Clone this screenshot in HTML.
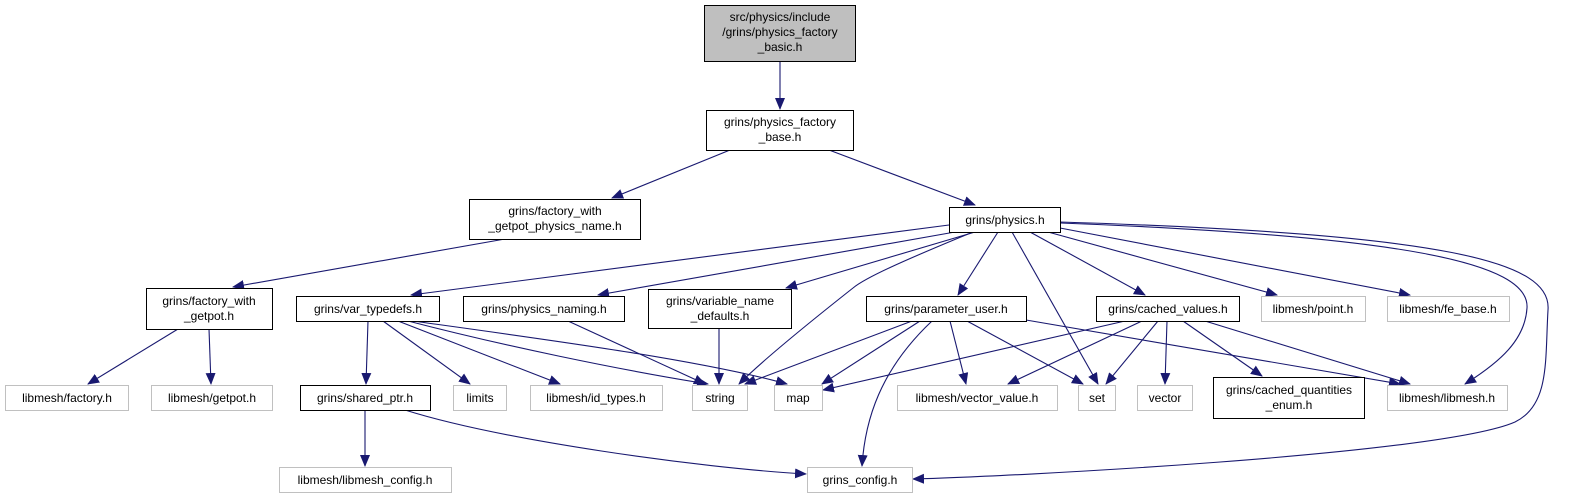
<!DOCTYPE html>
<html><head><meta charset="utf-8"><style>
html,body{margin:0;padding:0;background:#fff;}
svg{display:block;}
text{font-family:"Liberation Sans",sans-serif;font-size:12px;fill:#000;text-anchor:middle;}
.g{stroke:#c0c0c0;fill:#fff;stroke-width:1;}
.b{stroke:#000;fill:#fff;stroke-width:1;}
.e{stroke:#191970;fill:none;stroke-width:1.1;}
</style></head><body>
<svg width="1594" height="499" viewBox="0 0 1594 499" xmlns="http://www.w3.org/2000/svg">
<defs><marker id="a" markerWidth="12" markerHeight="10" refX="11" refY="5" orient="auto" markerUnits="userSpaceOnUse"><path d="M0,0 L12,5 L0,10 z" fill="#191970"/></marker></defs>
<g marker-end="url(#a)">
<path class="e" d="M780,61 L780,109"/>
<path class="e" d="M730,150 L612,198"/>
<path class="e" d="M829,150 L975,205"/>
<path class="e" d="M505,239 L233,287"/>
<path class="e" d="M178,329 L88,384"/>
<path class="e" d="M209,329 L211,384"/>
<path class="e" d="M949,225 L411,295"/>
<path class="e" d="M955,232 L598,295"/>
<path class="e" d="M975,232 L786,288"/>
<path class="e" d="M998,232 L958,295"/>
<path class="e" d="M973,232 C900,262 865,278 853,288 C815,318 765,358 739,384"/>
<path class="e" d="M1012,232 L1098,384"/>
<path class="e" d="M1030,232 L1145,295"/>
<path class="e" d="M1048,232 L1277,295"/>
<path class="e" d="M1060,228 L1410,295"/>
<path class="e" d="M1060,223 C1400,236 1530,262 1527,308 C1525,340 1500,362 1465,384"/>
<path class="e" d="M1060,222 C1450,234 1552,262 1548,310 C1545,360 1550,405 1515,422 C1440,455 1000,477 913,479"/>
<path class="e" d="M368,321 L366,384"/>
<path class="e" d="M383,321 L470,384"/>
<path class="e" d="M398,321 L560,384"/>
<path class="e" d="M408,321 C500,345 620,370 708,384"/>
<path class="e" d="M413,321 C550,340 700,360 787,384"/>
<path class="e" d="M568,321 L705,384"/>
<path class="e" d="M719,328 L719,384"/>
<path class="e" d="M912,321 L745,384"/>
<path class="e" d="M920,321 L822,384"/>
<path class="e" d="M932,321 C880,370 865,420 862,466"/>
<path class="e" d="M950,321 L966,384"/>
<path class="e" d="M967,321 L1083,384"/>
<path class="e" d="M1026,320 L1400,384"/>
<path class="e" d="M1125,321 L823,390"/>
<path class="e" d="M1142,321 L1008,384"/>
<path class="e" d="M1158,321 L1106,384"/>
<path class="e" d="M1167,321 L1165,384"/>
<path class="e" d="M1183,321 L1262,376"/>
<path class="e" d="M1205,321 L1410,384"/>
<path class="e" d="M365,410 L365,466"/>
<path class="e" d="M405,410 C500,440 700,468 806,474"/>
</g>
<rect x="704.5" y="5.5" width="151" height="56" fill="#bfbfbf" stroke="#000"/>
<text x="780" y="21">src/physics/include</text>
<text x="780" y="36">/grins/physics_factory</text>
<text x="780" y="51">_basic.h</text>
<rect class="b" x="706.5" y="110.5" width="147" height="40"/>
<text x="780" y="126">grins/physics_factory</text>
<text x="780" y="141">_base.h</text>
<rect class="b" x="469.5" y="199.5" width="171" height="40"/>
<text x="555" y="215">grins/factory_with</text>
<text x="555" y="230">_getpot_physics_name.h</text>
<rect class="b" x="949.5" y="207.5" width="111" height="25"/>
<text x="1005" y="224">grins/physics.h</text>
<rect class="b" x="146.5" y="288.5" width="126" height="41"/>
<text x="209" y="305">grins/factory_with</text>
<text x="209" y="320">_getpot.h</text>
<rect class="b" x="296.5" y="296.5" width="143" height="25"/>
<text x="368" y="313">grins/var_typedefs.h</text>
<rect class="b" x="463.5" y="296.5" width="161" height="25"/>
<text x="544" y="313">grins/physics_naming.h</text>
<rect class="b" x="648.5" y="289.5" width="143" height="39"/>
<text x="720" y="305">grins/variable_name</text>
<text x="720" y="320">_defaults.h</text>
<rect class="b" x="866.5" y="296.5" width="160" height="25"/>
<text x="946" y="313">grins/parameter_user.h</text>
<rect class="b" x="1096.5" y="296.5" width="143" height="25"/>
<text x="1168" y="313">grins/cached_values.h</text>
<rect class="g" x="1261.5" y="296.5" width="104" height="25"/>
<text x="1313" y="313">libmesh/point.h</text>
<rect class="g" x="1387.5" y="296.5" width="122" height="25"/>
<text x="1448" y="313">libmesh/fe_base.h</text>
<rect class="g" x="5.5" y="385.5" width="123" height="25"/>
<text x="67" y="402">libmesh/factory.h</text>
<rect class="g" x="151.5" y="385.5" width="121" height="25"/>
<text x="212" y="402">libmesh/getpot.h</text>
<rect class="b" x="300.5" y="385.5" width="130" height="25"/>
<text x="365" y="402">grins/shared_ptr.h</text>
<rect class="g" x="453.5" y="385.5" width="53" height="25"/>
<text x="480" y="402">limits</text>
<rect class="g" x="530.5" y="385.5" width="132" height="25"/>
<text x="596" y="402">libmesh/id_types.h</text>
<rect class="g" x="692.5" y="385.5" width="55" height="25"/>
<text x="720" y="402">string</text>
<rect class="g" x="774.5" y="385.5" width="48" height="25"/>
<text x="798" y="402">map</text>
<rect class="g" x="897.5" y="385.5" width="160" height="25"/>
<text x="977" y="402">libmesh/vector_value.h</text>
<rect class="g" x="1078.5" y="385.5" width="37" height="25"/>
<text x="1097" y="402">set</text>
<rect class="g" x="1137.5" y="385.5" width="55" height="25"/>
<text x="1165" y="402">vector</text>
<rect class="b" x="1213.5" y="377.5" width="151" height="41"/>
<text x="1289" y="394">grins/cached_quantities</text>
<text x="1289" y="409">_enum.h</text>
<rect class="g" x="1387.5" y="385.5" width="120" height="25"/>
<text x="1447" y="402">libmesh/libmesh.h</text>
<rect class="g" x="279.5" y="467.5" width="172" height="25"/>
<text x="365" y="484">libmesh/libmesh_config.h</text>
<rect class="g" x="807.5" y="467.5" width="105" height="25"/>
<text x="860" y="484">grins_config.h</text>
</svg>
</body></html>
